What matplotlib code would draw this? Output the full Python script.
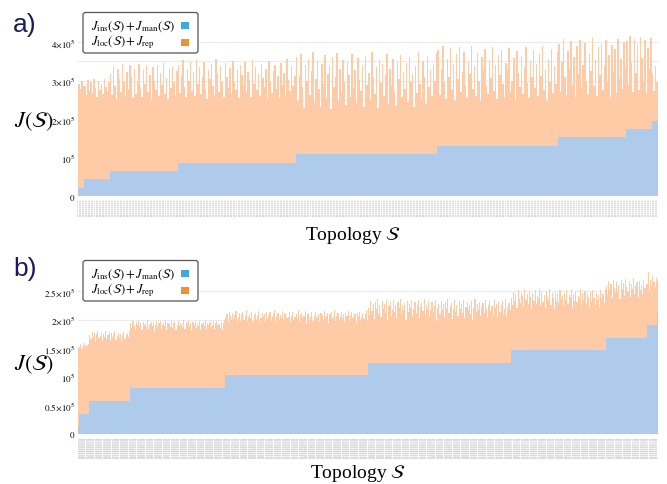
import numpy as np
import matplotlib
matplotlib.use("Agg")
import matplotlib.pyplot as plt
from matplotlib.patches import FancyBboxPatch, Rectangle
from matplotlib.transforms import IdentityTransform
from matplotlib.ticker import MultipleLocator

plt.rcParams['mathtext.fontset'] = 'stix'
plt.rcParams['font.family'] = ['Liberation Serif', 'DejaVu Serif']

# ---------------- data (values in thousands) ----------------
# panel a: blue level per group, and total (blue + orange) per topology
levels_a = [22, 43, 65, 87, 109, 130, 152, 174, 196]
totals_a_g1 = [292, 278, 300, 285]
totals_a_g2 = [285, 262, 301, 274, 296, 268, 305, 281, 258, 299, 276, 290, 265, 303, 283, 270, 296]
totals_a_g3 = [318, 262, 335, 287, 251, 329, 304, 271, 342, 295, 258, 323, 279, 339, 310, 254, 331, 266, 300, 344,
               283, 257, 326, 292, 337, 269, 313, 248, 334, 298, 276, 341, 259, 320, 288, 345, 265, 307, 252, 330,
               281, 338, 296, 263, 324]
totals_a_g4 = [341, 268, 315, 352, 284, 256, 330, 299, 347, 273, 321, 259, 354, 290, 336, 265, 310, 349, 278, 252,
               326, 303, 343, 287, 262, 355, 318, 271, 338, 295, 257, 345, 309, 281, 333, 264, 351, 297, 276, 328,
               254, 340, 313, 286, 348, 269, 322, 301, 258, 353, 292, 335, 275, 316, 260, 344, 306, 283, 331, 251,
               350, 296, 267, 325, 339, 279, 311, 255, 346, 289, 320, 263, 356, 302, 272, 337, 285, 312]
totals_a_g5 = [362, 248, 311, 370, 283, 229, 339, 298, 356, 262, 324, 375, 241, 305, 351, 277, 232, 344, 290, 367,
               255, 318, 337, 226, 360, 284, 309, 372, 246, 331, 269, 354, 295, 236, 347, 315, 258, 368, 280, 327,
               242, 359, 301, 273, 341, 230, 364, 288, 320, 251, 373, 307, 265, 335, 228, 352, 293, 343, 260, 313,
               369, 238, 329, 286, 357, 271, 234, 348, 303, 366, 256, 322, 279, 345, 244, 361, 297, 317, 231, 338,
               267, 374, 291, 253, 350, 308, 240, 363, 282, 326, 259, 340, 300, 371]
totals_a_g6 = [378, 262, 331, 389, 296, 251, 357, 310, 384, 275, 343, 248, 368, 303, 387, 269, 322, 375, 285, 255,
               349, 316, 390, 278, 337, 259, 372, 298, 246, 361, 325, 382, 287, 266, 353, 306, 388, 273, 340, 252,
               366, 314, 380, 291, 257, 346, 328, 385, 271, 300, 359, 249, 376, 319, 283, 363, 264, 334, 386, 294,
               254, 351, 308, 379, 281, 342, 261, 370, 312, 389, 276, 326, 247, 356, 297, 383, 268, 338, 290, 373]
totals_a_g7 = [395, 271, 348, 408, 310, 262, 377, 330, 402, 289, 360, 257, 390, 318, 405, 280, 341, 398, 300, 266,
               369, 325, 410, 285, 352, 260, 386, 314, 396, 275, 338, 404, 295, 365, 258, 392, 322, 381, 268, 407,
               305, 356, 278, 399, 335]
totals_a_g8 = [402, 288, 415, 345, 270, 409, 320, 392, 276, 412, 358, 300, 406, 268, 385, 330, 410]
totals_a_g9 = [320, 272, 338, 295]
totals_a = [totals_a_g1, totals_a_g2, totals_a_g3, totals_a_g4, totals_a_g5,
            totals_a_g6, totals_a_g7, totals_a_g8, totals_a_g9]

# panel b
levels_b = [12, 35, 57, 79, 102, 123, 146, 167, 190, 212]
totals_b_g0 = [150]
totals_b_g1 = [152, 157, 149, 155, 158, 151, 156, 153, 157]
totals_b_g2 = [172, 165, 178, 169, 176, 161, 174, 179, 167, 171, 177, 163, 175, 170, 180, 166, 173, 178, 162, 176,
               169, 174, 179, 164, 171, 177, 168, 175, 160, 173, 178, 166, 172, 176, 170, 179]
totals_b_g3 = [193, 185, 197, 189, 182, 195, 191, 198, 186, 193, 181, 196, 190, 194, 187, 199, 183, 192, 196, 188,
               195, 180, 191, 197, 186, 193, 198, 184, 190, 195, 189, 199, 182, 194, 192, 187, 197, 185, 193, 196,
               181, 190, 198, 188, 194, 191, 186, 199, 183, 195, 192, 197, 187, 193, 180, 196, 190, 198, 185, 194,
               189, 197, 182, 192, 195, 188, 199, 184, 193, 191, 196, 186, 190, 198, 183, 194, 197, 189, 192, 185,
               196, 181, 193, 199]
totals_b_g4 = [203, 210, 196, 214, 206, 199, 212, 201, 208, 215, 194, 205, 211, 198, 209, 213, 200, 207, 216, 195,
               204, 210, 202, 214, 197, 208, 212, 199, 206, 215, 193, 203, 211, 205, 209, 196, 213, 201, 207, 214,
               198, 204, 210, 216, 194, 206, 212, 200, 208, 203, 215, 197, 209, 211, 202, 205, 213, 195, 207, 214,
               199, 204, 210, 201, 216, 196, 208, 212, 203, 206, 215, 192, 209, 211, 200, 205, 213, 198, 207, 214,
               202, 204, 210, 196, 212, 208, 199, 215, 203, 206, 211, 194, 209, 213, 201, 205, 216, 197, 207, 212,
               200, 204, 214, 203, 209, 195, 211, 206, 215, 198, 208, 213, 202, 205, 210, 193, 212, 207, 214, 199,
               204, 211, 201, 209, 216, 197]
totals_b_g5 = [221, 208, 232, 215, 227, 201, 230, 218, 236, 210, 225, 204, 233, 219, 228, 212, 235, 199, 224, 230,
               207, 217, 234, 213, 226, 203, 231, 220, 236, 209, 223, 216, 229, 200, 233, 214, 227, 221, 235, 206,
               218, 231, 211, 225, 234, 202, 222, 229, 215, 236, 208, 226, 219, 232, 204, 217, 230, 213, 224, 235,
               198, 221, 228, 210, 233, 216, 227, 205, 231, 220, 236, 212, 223, 229, 201, 218, 234, 214, 225, 207,
               232, 219, 228, 211, 235, 203, 222, 230, 216, 226, 209, 233, 200, 221, 236, 213, 227, 217, 231, 206,
               224, 229, 212, 234, 219, 202, 226, 232, 215, 223, 208, 235, 220, 228, 204, 230, 214, 225, 233, 210,
               218, 236, 207, 222, 229, 216]
totals_b_g6 = [238, 225, 249, 232, 244, 220, 251, 236, 229, 247, 241, 222, 253, 234, 245, 227, 250, 239, 219, 246,
               233, 252, 228, 242, 237, 254, 224, 248, 231, 243, 221, 250, 240, 235, 253, 226, 246, 238, 218, 249,
               232, 244, 229, 252, 236, 241, 223, 247, 234, 251, 227, 243, 239, 254, 220, 245, 233, 248, 230, 242,
               237, 253, 225, 246, 235, 250, 228, 244, 240, 221, 249, 231, 252, 238, 226, 247, 234, 243, 222, 251,
               236, 245, 229, 254]
totals_b_g7 = [258, 243, 268, 251, 263, 238, 270, 255, 246, 266, 249, 261, 236, 269, 253, 264, 242, 271, 257, 248,
               267, 240, 262, 254, 272, 245, 259, 265, 239, 268, 252, 260, 244, 270, 256, 263]
totals_b_g8 = [262, 284, 250, 270, 258, 276, 265, 255, 272]
totals_b_g9 = [268]
totals_b = [totals_b_g0, totals_b_g1, totals_b_g2, totals_b_g3, totals_b_g4,
            totals_b_g5, totals_b_g6, totals_b_g7, totals_b_g8, totals_b_g9]

# tick labels (topology codes)
labels_a = [','.join(format(i, '09b')) for i in range(384)]
labels_b = ['{' + ','.join(s) + '}' for s in sorted([format(i, '09b') for i in range(512)],
                                                    key=lambda s: (s.count('1'), s))]

yticks_a = [0, 1e5, 2e5, 3e5, 4e5]
yticklabels_a = ['$0$', '$10^5$', r'$2{\times}10^5$', r'$3{\times}10^5$', r'$4{\times}10^5$']
yticks_b = [0, 0.5e5, 1e5, 1.5e5, 2e5, 2.5e5]
yticklabels_b = ['$0$', r'$0.5{\times}10^5$', '$10^5$', r'$1.5{\times}10^5$', r'$2{\times}10^5$', r'$2.5{\times}10^5$']

legend_labels = [r'$J_{\mathrm{ins}}(\mathcal{S}) + J_{\mathrm{man}}(\mathcal{S})$',
                 r'$J_{\mathrm{loc}}(\mathcal{S}) + J_{\mathrm{rep}}$']

# ---------------- style ----------------
BLUE_BAR = '#aecbeb'
ORANGE_BAR = '#ffcaa6'
BLUE_KEY = '#3ea8df'
ORANGE_KEY = '#f29030'
NAVY = '#1b1a5c'

W, H = 667, 485
fig = plt.figure(figsize=(W / 100, H / 100), dpi=100)


def fx(px):
    return px / W


def fy(py):
    return 1 - py / H


def panel(rect, levels, totals, labels, ymax, yticks, yticklabels, lab_fs):
    ax = fig.add_axes(rect)
    blue = np.concatenate([[lv] * len(t) for lv, t in zip(levels, totals)]) * 1e3
    tot = np.concatenate([np.asarray(t, float) for t in totals]) * 1e3
    orange = tot - blue
    x = np.arange(len(tot))
    ax.bar(x, blue, width=1.0, color=BLUE_BAR, linewidth=0, zorder=2)
    ax.bar(x, orange, bottom=blue, width=1.0, color=ORANGE_BAR, linewidth=0, zorder=2)
    ax.set_xlim(-0.5, len(x) - 0.5)
    ax.set_ylim(0, ymax)
    ax.set_yticks(yticks)
    ax.set_yticklabels(yticklabels, fontsize=6.5)
    ax.yaxis.set_minor_locator(MultipleLocator(0.5e5))
    ax.grid(True, which='both', axis='y', color='#ebebeb', linewidth=0.8, zorder=0)
    ax.set_axisbelow(True)
    ax.set_xticks(x)
    ax.set_xticklabels(labels, rotation=90, fontsize=lab_fs, color='#8a8a8a', family='DejaVu Sans')
    ax.tick_params(axis='both', which='both', length=0)
    ax.tick_params(axis='y', pad=2)
    ax.tick_params(axis='x', pad=1.5)
    for s in ax.spines.values():
        s.set_visible(False)
    return ax


# panel a: x 78..658 px, zero at y=197, 38.5 px per 1e5
ya0, sa = 197, 38.5
ymax_a = 4.25e5
top_a = ya0 - ymax_a / 1e5 * sa
ax_a = panel([fx(78), fy(ya0), fx(658) - fx(78), (ya0 - top_a) / H],
             levels_a, totals_a, labels_a, ymax_a, yticks_a, yticklabels_a, 1.5)

# panel b: zero at y=434.5, 57 px per 1e5
yb0, sb = 434.5, 57.0
ymax_b = 2.9e5
top_b = yb0 - ymax_b / 1e5 * sb
ax_b = panel([fx(78), fy(yb0), fx(658) - fx(78), (yb0 - top_b) / H],
             levels_b, totals_b, labels_b, ymax_b, yticks_b, yticklabels_b, 1.65)

# legends (drawn in pixel coordinates; text left, colour key right)
for top in (13.5, 261.5):
    box = FancyBboxPatch((83, H - (top + 40.5)), 115, 40.5,
                         boxstyle='round,pad=0,rounding_size=2.5',
                         transform=IdentityTransform(), facecolor='white',
                         edgecolor='#555555', linewidth=0.9, zorder=5)
    fig.patches.append(box)
    for i, (lab, col) in enumerate(zip(legend_labels, [BLUE_KEY, ORANGE_KEY])):
        yc = top + 13 + i * 16.5
        fig.text(fx(91), fy(yc), lab, fontsize=9, ha='left', va='center', zorder=6)
        sq = Rectangle((180.5, H - yc - 3.5), 8, 7, transform=IdentityTransform(),
                       facecolor=col, edgecolor='none', zorder=6)
        fig.patches.append(sq)

# axis titles
for yc in (122, 365):
    fig.text(fx(34), fy(yc), r'$J(\mathcal{S})$', fontsize=16, ha='center', va='center')
fig.text(fx(353), fy(236), r'Topology $\mathcal{S}$', fontsize=14, ha='center', va='center')
fig.text(fx(358), fy(474), r'Topology $\mathcal{S}$', fontsize=14, ha='center', va='center')

# panel letters
fig.text(fx(13), fy(13), 'a)', fontsize=19, color=NAVY, family='Liberation Sans', ha='left', va='top')
fig.text(fx(13), fy(257), 'b)', fontsize=19, color=NAVY, family='Liberation Sans', ha='left', va='top')

fig.savefig('out.png', dpi=100)
